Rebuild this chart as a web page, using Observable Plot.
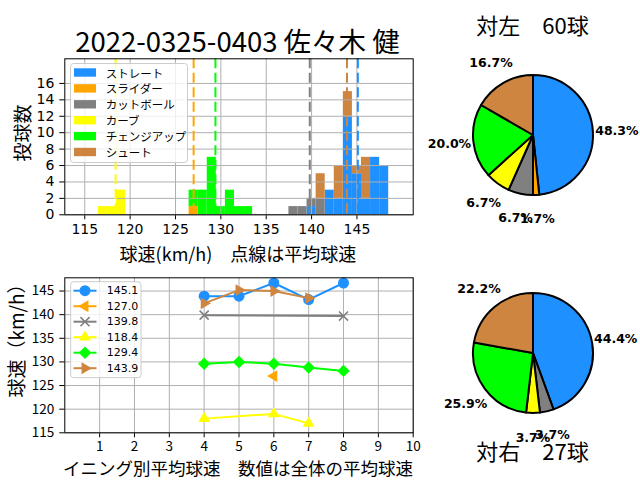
<!DOCTYPE html>
<html>
<head>
<meta charset="utf-8">
<script src="https://cdn.jsdelivr.net/npm/d3@7"></script>
<script src="https://cdn.jsdelivr.net/npm/@observablehq/plot@0.6"></script>
<style>
  body { margin: 0; background: #fff; }
  #root { position: relative; width: 640px; height: 480px; overflow: hidden; background: #fff; }
  #root > svg { position: absolute; }
</style>
</head>
<body>
<div id="root"></div>
<script>
// ---------------- data ----------------
const pitchTypes = ["ストレート", "スライダー", "カットボール", "カーブ", "チェンジアップ", "シュート"];
const pitchColors = ["#1e90ff", "#ffa500", "#808080", "#ffff00", "#00ff00", "#cd853f"];
const meanSpeeds = [145.1, 127.0, 139.8, 118.4, 129.4, 143.9];

// histogram: [bin centre km/h, count] (1 km/h bins)
const histStraight = [[140, 1], [142, 3], [143, 2], [144, 12], [145, 5], [146, 2], [147, 7], [148, 6]];
const histSlider = [[127, 1]];
const histCutter = [[138, 1], [139, 1], [140, 1], [141, 2]];
const histCurve = [[117, 1], [118, 1], [119, 3]];
const histChangeup = [[127, 2], [128, 3], [129, 7], [130, 1], [131, 3], [132, 1], [133, 1]];
const histShoot = [[141, 3], [143, 4], [144, 3], [145, 1], [146, 5]];

// inning averages: [inning, km/h]
const lineStraight = [[4, 143.9], [5, 143.9], [6, 146.7], [7, 143.2], [8, 146.7]];
const lineSlider = [[6, 127.0]];
const lineCutter = [[4, 139.9], [8, 139.7]];
const lineCurve = [[4, 118.0], [6, 119.0], [7, 117.0]];
const lineChangeup = [[4, 129.6], [5, 130.0], [6, 129.6], [7, 128.8], [8, 128.1]];
const lineShoot = [[4, 142.4], [5, 145.2], [6, 145.0], [7, 143.5]];

// pitch counts vs left / right batters
const leftCounts = [29, 1, 4, 4, 12, 10];
const rightCounts = [12, 0, 1, 1, 7, 6];

// ticks
const histXTicks = [115, 120, 125, 130, 135, 140, 145];
const histYTicks = [0, 2, 4, 6, 8, 10, 12, 14, 16];
const inningTicks = [1, 2, 3, 4, 5, 6, 7, 8, 9, 10];
const speedTicks = [115, 120, 125, 130, 135, 140, 145];

// ---------------- derived tables ----------------
const histSeries = [histStraight, histSlider, histCutter, histCurve, histChangeup, histShoot];
const histRows = histSeries.flatMap((s, i) => s.map(([speed, count]) => ({type: pitchTypes[i], speed, count})));
const meanRows = pitchTypes.map((type, i) => ({type, mean: meanSpeeds[i]}));
const lineSeries = [lineStraight, lineSlider, lineCutter, lineCurve, lineChangeup, lineShoot];
const lineRows = lineSeries.flatMap((s, i) => s.map(([inning, speed]) => ({type: pitchTypes[i], inning, speed})));

const markerStyles = [
  {symbol: "circle", r: 5.5, rotate: 0},
  {symbol: "triangle", r: 4.4, rotate: -90},
  {symbol: "times", r: 4.2, rotate: 0, stroked: true},
  {symbol: "triangle", r: 4.4, rotate: 0},
  {symbol: "diamond2", r: 5.6, rotate: 0},
  {symbol: "triangle", r: 4.4, rotate: 90}
];

const root = document.getElementById("root");
const JP = "'Noto Sans CJK JP', 'Noto Sans', sans-serif";
const colorScale = {domain: pitchTypes, range: pitchColors};

function place(el, left, top) {
  el.style.left = left + "px";
  el.style.top = top + "px";
  root.appendChild(el);
}

// ---------------- histogram ----------------
const hist = Plot.plot({
  width: 420, height: 270,
  marginLeft: 64.3, marginRight: 7.3, marginTop: 58.3, marginBottom: 55.7,
  style: {fontFamily: "'DejaVu Sans', sans-serif", fontSize: "14px", color: "black", background: "transparent", overflow: "visible"},
  x: {domain: [112.8, 151.2], ticks: histXTicks, tickSize: 5, tickPadding: 4, label: null, tickFormat: d => d},
  y: {domain: [0, 19], ticks: histYTicks, tickSize: 5, tickPadding: 5.5, label: null},
  color: colorScale,
  marks: [
    Plot.rectY(histRows, {x1: d => d.speed - 0.5, x2: d => d.speed + 0.5, y: "count", fill: "type", inset: 0}),
    Plot.ruleX(histXTicks, {stroke: "#b0b0b0", strokeWidth: 1}),
    Plot.ruleY(histYTicks, {stroke: "#b0b0b0", strokeWidth: 1}),
    Plot.ruleX(meanRows, {x: "mean", stroke: "type", strokeWidth: 2, strokeDasharray: "10,4.5"}),
    Plot.frame({stroke: "black", strokeWidth: 1})
  ]
});
place(hist, 0, 0);

// ---------------- inning line chart ----------------
const lineMarks = [
  Plot.ruleX(inningTicks, {stroke: "#b0b0b0", strokeWidth: 1}),
  Plot.ruleY(speedTicks, {stroke: "#b0b0b0", strokeWidth: 1})
];
pitchTypes.forEach((t, i) => {
  const m = markerStyles[i];
  lineMarks.push(Plot.line(lineRows, {filter: d => d.type === t, x: "inning", y: "speed", stroke: "type", strokeWidth: 2}));
  lineMarks.push(Plot.dot(lineRows, {
    filter: d => d.type === t, x: "inning", y: "speed", symbol: m.symbol, r: m.r, rotate: m.rotate,
    fill: m.stroked ? "none" : "type", stroke: m.stroked ? "type" : "none", strokeWidth: m.stroked ? 1.6 : 0
  }));
});
lineMarks.push(Plot.frame({stroke: "black", strokeWidth: 1}));

const line = Plot.plot({
  width: 420, height: 218,
  marginLeft: 64.3, marginRight: 7.3, marginTop: 15.3, marginBottom: 47.7,
  style: {fontFamily: JP, fontSize: "13.5px", color: "black", background: "transparent", overflow: "visible"},
  x: {domain: [0, 10], ticks: inningTicks, tickSize: 5, tickPadding: 4, label: null},
  y: {domain: [115, 147.8], ticks: speedTicks, tickSize: 5, tickPadding: 5.5, label: null},
  color: colorScale,
  symbol: {domain: ["circle", "triangle", "times", "diamond2"], range: ["circle", "triangle", "times", "diamond2"]},
  marks: lineMarks
});
place(line, 0, 262);

// ---------------- pies ----------------
function pieMark(counts) {
  return (index, scales, values, dims) => {
    const iw = dims.width - dims.marginLeft - dims.marginRight;
    const ih = dims.height - dims.marginTop - dims.marginBottom;
    const cx = dims.marginLeft + iw / 2;
    const cy = dims.marginTop + ih / 2;
    const r = Math.min(iw, ih) / 2;
    const total = d3.sum(counts);
    const items = pitchTypes.map((type, i) => ({type, value: counts[i], color: pitchColors[i]})).filter(d => d.value > 0);
    const arcs = d3.pie().sort(null).value(d => d.value)(items);
    const g = d3.create("svg:g");
    g.selectAll("path").data(arcs).join("path")
      .attr("transform", `translate(${cx},${cy})`)
      .attr("d", d3.arc().innerRadius(0).outerRadius(r))
      .attr("fill", d => d.data.color)
      .attr("stroke", "black")
      .attr("stroke-width", 2)
      .attr("stroke-linejoin", "round");
    g.selectAll("text").data(arcs).join("text")
      .attr("x", d => cx + 1.4 * r * Math.sin((d.startAngle + d.endAngle) / 2))
      .attr("y", d => cy - 1.4 * r * Math.cos((d.startAngle + d.endAngle) / 2))
      .attr("text-anchor", "middle")
      .attr("dominant-baseline", "central")
      .attr("font-family", "'DejaVu Sans', sans-serif")
      .attr("font-weight", "bold")
      .attr("font-size", 12.5)
      .attr("fill", "black")
      .text(d => d3.format(".1f")(d.data.value / total * 100) + "%");
    return g.node();
  };
}
const pieStyle = {background: "transparent", overflow: "visible"};
const pieLeft = Plot.plot({width: 215, height: 220, marginLeft: 50, marginRight: 45, marginTop: 50, marginBottom: 50, style: pieStyle, marks: [pieMark(leftCounts)]});
place(pieLeft, 422.5, 25);
const pieRight = Plot.plot({width: 215, height: 220, marginLeft: 50, marginRight: 45, marginTop: 50, marginBottom: 50, style: pieStyle, marks: [pieMark(rightCounts)]});
place(pieRight, 422.5, 243.3);

// ---------------- overlay: titles, labels, legends ----------------
const ov = d3.create("svg").attr("width", 640).attr("height", 480).attr("viewBox", "0 0 640 480");
ov.style("left", "0px").style("top", "0px").style("position", "absolute");
const txt = (x, y, s, size, extra = {}) => {
  const t = ov.append("text").attr("x", x).attr("y", y).attr("font-family", extra.family || JP)
    .attr("font-size", size).attr("text-anchor", extra.anchor || "middle").attr("dominant-baseline", "central")
    .attr("fill", "black").text(s);
  if (extra.rotate) t.attr("transform", `rotate(-90 ${x} ${y})`);
  return t;
};
txt(237.5, 40, "2022-0325-0403 佐々木 健", 27.5);
txt(532.5, 24, `対左　${d3.sum(leftCounts)}球`, 22);
txt(532.5, 450, `対右　${d3.sum(rightCounts)}球`, 22);
txt(238, 253, "球速(km/h)　点線は平均球速", 18);
txt(21.7, 133, "投球数", 19, {rotate: true});
txt(238, 467.5, "イニング別平均球速　数値は全体の平均球速", 17.5);
txt(15, 336, "球速（km/h）", 19, {rotate: true});

// histogram legend
ov.append("rect").attr("x", 70.5).attr("y", 63.5).attr("width", 117).attr("height", 99).attr("rx", 3)
  .attr("fill", "white").attr("fill-opacity", 0.8).attr("stroke", "#cccccc");
pitchTypes.forEach((t, i) => {
  const cy = 72.5 + i * 15.9;
  ov.append("rect").attr("x", 74).attr("y", cy - 4.2).attr("width", 22).attr("height", 8.4).attr("fill", pitchColors[i]);
  txt(105.7, cy, t, 11.5, {anchor: "start"});
});

// line legend
ov.append("rect").attr("x", 70.7).attr("y", 281.7).attr("width", 70.3).attr("height", 96).attr("rx", 3)
  .attr("fill", "white").attr("fill-opacity", 0.8).attr("stroke", "#cccccc");
const d3Symbols = {circle: d3.symbolCircle, triangle: d3.symbolTriangle, times: d3.symbolTimes, diamond2: d3.symbolDiamond2};
pitchTypes.forEach((t, i) => {
  const cy = 290.7 + i * 15.5;
  const m = markerStyles[i];
  ov.append("line").attr("x1", 73.5).attr("x2", 96.5).attr("y1", cy).attr("y2", cy)
    .attr("stroke", pitchColors[i]).attr("stroke-width", 2);
  ov.append("path")
    .attr("d", d3.symbol(d3Symbols[m.symbol], Math.PI * m.r * m.r)())
    .attr("transform", `translate(85,${cy}) rotate(${m.rotate})`)
    .attr("fill", m.stroked ? "none" : pitchColors[i])
    .attr("stroke", m.stroked ? pitchColors[i] : "none")
    .attr("stroke-width", m.stroked ? 1.6 : 0);
  txt(106.7, cy, d3.format(".1f")(meanSpeeds[i]), 11, {anchor: "start", family: "'DejaVu Sans', sans-serif"});
});
root.appendChild(ov.node());
</script>
</body>
</html>
